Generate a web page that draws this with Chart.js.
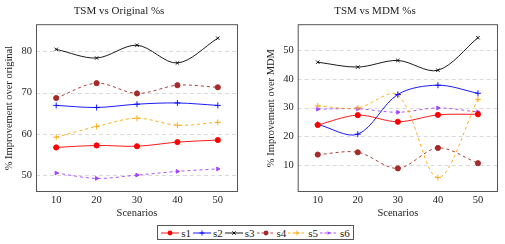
<!DOCTYPE html>
<html>
<head>
<meta charset="utf-8">
<script src="https://cdn.jsdelivr.net/npm/chart.js@4"></script>
<style>
  body { margin: 0; background: #fff; width: 505px; height: 244px; position: relative; overflow: hidden; }
  .box { position: absolute; top: 0; height: 222px; }
  #legend {
    position: absolute; left: 157px; top: 225px; width: 195px; height: 13px;
    border: 1px solid #555; display: flex; align-items: center; justify-content: center;
    font-family: "Liberation Serif", serif; font-size: 11px; color: #222; box-sizing: content-box;
  }
  #legend .item { display: flex; align-items: center; margin: 0 1px; }
  #legend svg { margin-right: 2px; }
</style>
</head>
<body>
<div class="box" style="left:0;width:245px"><canvas id="origChart"></canvas></div>
<div class="box" style="left:252px;width:253px"><canvas id="mdmChart"></canvas></div>
<div id="legend"></div>
<script>
const scenarios = [10, 20, 30, 40, 50];
const seriesNames = ['s1', 's2', 's3', 's4', 's5', 's6'];

// TSM vs Original
const origS1 = [56.7, 57.2, 57.0, 58.0, 58.5];
const origS2 = [66.9, 66.4, 67.2, 67.5, 66.9];
const origS3 = [80.5, 78.4, 81.5, 77.2, 83.2];
const origS4 = [68.7, 72.3, 69.8, 71.8, 71.3];
const origS5 = [59.2, 61.8, 63.8, 62.1, 62.8];
const origS6 = [50.5, 49.2, 50.0, 50.9, 51.5];
const origTicks = [50, 60, 70, 80];

// TSM vs MDM
const mdmS1 = [24.0, 27.4, 25.1, 27.5, 27.7];
const mdmS2 = [24.2, 20.8, 34.6, 37.8, 35.0];
const mdmS3 = [45.8, 44.1, 46.4, 43.0, 54.3];
const mdmS4 = [13.7, 14.5, 8.9, 16.0, 10.7];
const mdmS5 = [30.6, 29.9, 34.4, 5.7, 32.9];
const mdmS6 = [29.5, 29.6, 28.4, 29.9, 28.5];
const mdmTicks = [10, 20, 30, 40, 50];

const FONT = '"Liberation Serif", serif';

const styles = [
    { color: '#ff0000', point: 'circle', radius: 2.6, dash: [] },
    { color: '#0000ff', point: 'cross', radius: 3, dash: [] },
    { color: '#000000', point: 'crossRot', radius: 2.4, dash: [] },
    { color: '#a52a2a', point: 'circle', radius: 2.6, dash: [3, 3] },
    { color: '#ffa500', point: 'cross', radius: 3, dash: [3, 3] },
    { color: '#a040ff', point: 'triangle', radius: 2.2, dash: [3, 3] }
];

// dashed horizontal grid + box frame, pgfplots style
const framePlugin = {
    id: 'frame',
    beforeDatasetsDraw(chart) {
        const a = chart.chartArea;
        const ctx = chart.ctx;
        const y = chart.scales.y;
        ctx.save();
        ctx.strokeStyle = '#cfcfcf';
        ctx.lineWidth = 0.8;
        ctx.setLineDash([4, 3]);
        y.ticks.forEach(t => {
            const py = Math.round(y.getPixelForValue(t.value)) + 0.5;
            ctx.beginPath();
            ctx.moveTo(a.left, py);
            ctx.lineTo(a.right, py);
            ctx.stroke();
        });
        ctx.restore();
    },
    afterDatasetsDraw(chart) {
        const a = chart.chartArea;
        const ctx = chart.ctx;
        ctx.save();
        ctx.strokeStyle = '#555';
        ctx.lineWidth = 1;
        ctx.strokeRect(a.left + 0.5, a.top + 0.5, a.right - a.left - 1, a.bottom - a.top - 1);
        ctx.restore();
    }
};

function makeChart(id, title, yTitle, series, yTicks, yMin, yMax, yWidth, yTitlePad) {
    const datasets = series.map((vals, i) => ({
        label: seriesNames[i],
        data: vals.map((v, j) => ({ x: scenarios[j], y: v })),
        borderColor: styles[i].color,
        backgroundColor: styles[i].color,
        borderWidth: 0.9,
        borderDash: styles[i].dash,
        pointStyle: styles[i].point,
        pointRadius: styles[i].radius,
        pointRotation: styles[i].point === 'triangle' ? 90 : 0,
        pointBorderWidth: 0.9,
        tension: 0.33
    }));
    return new Chart(document.getElementById(id), {
        type: 'line',
        data: { datasets },
        plugins: [framePlugin],
        options: {
            responsive: true,
            maintainAspectRatio: false,
            animation: false,
            layout: { padding: { left: 0, right: 7, top: 0, bottom: 0 } },
            plugins: {
                legend: { display: false },
                tooltip: { enabled: false },
                title: {
                    display: true, text: title, color: '#222',
                    font: { family: FONT, size: 11, weight: 'normal' },
                    padding: { top: 5, bottom: 6 }
                }
            },
            scales: {
                x: {
                    type: 'linear', min: 5, max: 55,
                    afterBuildTicks: s => { s.ticks = scenarios.map(v => ({ value: v })); },
                    afterFit: s => { s.height = 30; },
                    grid: { display: false, drawTicks: false },
                    border: { display: false },
                    ticks: { color: '#222', font: { family: FONT, size: 10.5 }, padding: 2 },
                    title: { display: true, text: 'Scenarios', color: '#222', font: { family: FONT, size: 10.5 }, padding: { top: 0, bottom: 2 } }
                },
                y: {
                    min: yMin, max: yMax,
                    afterBuildTicks: s => { s.ticks = yTicks.map(v => ({ value: v })); },
                    afterFit: s => { s.width = yWidth; },
                    grid: { display: false, drawTicks: false },
                    border: { display: false },
                    ticks: { color: '#222', font: { family: FONT, size: 10.5 }, padding: 4 },
                    title: { display: true, text: yTitle, color: '#222', font: { family: FONT, size: 10.5 }, padding: { top: yTitlePad, bottom: 0 } }
                }
            }
        }
    });
}

makeChart('origChart', 'TSM vs Original %s', '% Improvement over original',
    [origS1, origS2, origS3, origS4, origS5, origS6], origTicks, 45.9, 86.6, 36, 3);
makeChart('mdmChart', 'TSM vs MDM %s', '% Improvement over MDM',
    [mdmS1, mdmS2, mdmS3, mdmS4, mdmS5, mdmS6], mdmTicks, 0.7, 59, 45.7, 12.5);

// legend
const legend = document.getElementById('legend');
seriesNames.forEach((name, i) => {
    const st = styles[i];
    const c = st.color;
    let mark = '';
    if (st.point === 'circle') mark = `<circle cx="9" cy="4" r="2.4" fill="${c}"/>`;
    else if (st.point === 'cross') mark = `<path d="M9 1.5v5M6.5 4h5" stroke="${c}" stroke-width="0.9"/>`;
    else if (st.point === 'crossRot') mark = `<path d="M7.3 2.3l3.4 3.4M10.7 2.3l-3.4 3.4" stroke="${c}" stroke-width="0.9"/>`;
    else mark = `<path d="M7.5 2.2L10.8 4L7.5 5.8Z" fill="${c}"/>`;
    const dash = st.dash.length ? `stroke-dasharray="2.5 2"` : '';
    const el = document.createElement('span');
    el.className = 'item';
    el.innerHTML = `<svg width="18" height="8"><line x1="0" y1="4" x2="18" y2="4" stroke="${c}" stroke-width="0.9" ${dash}/>${mark}</svg>${name}`;
    legend.appendChild(el);
});
</script>
</body>
</html>
